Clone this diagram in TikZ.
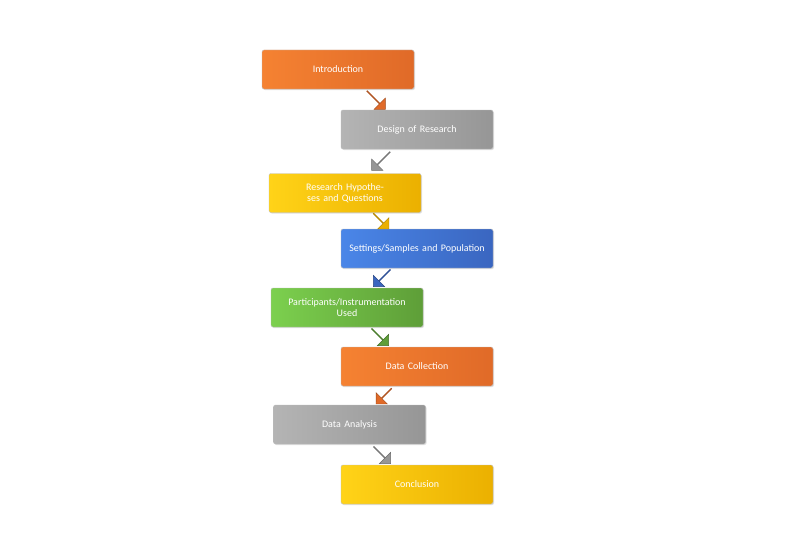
\documentclass[tikz,border=0pt]{standalone}
\usepackage{fontspec}
\setmainfont{Carlito}
\usetikzlibrary{shapes.arrows,shadows}
\definecolor{orA}{HTML}{F58232}\definecolor{orB}{HTML}{E06A28}
\definecolor{grA}{HTML}{B4B4B4}\definecolor{grB}{HTML}{969696}
\definecolor{yeA}{HTML}{FFD318}\definecolor{yeB}{HTML}{EBB000}
\definecolor{blA}{HTML}{4A86E8}\definecolor{blB}{HTML}{3A66C0}
\definecolor{gnA}{HTML}{7CD04E}\definecolor{gnB}{HTML}{5E9E38}
\tikzset{
 box/.style={rounded corners=2pt,minimum width=152pt,minimum height=39pt,text width=140pt,align=center,text=white,font=\fontsize{10}{11}\selectfont,draw=black!25,drop shadow={opacity=0.25,shadow xshift=1pt,shadow yshift=-1pt}},
 fillc/.style 2 args={left color=#1,right color=#2},
 barrow/.style={single arrow,minimum width=20pt,single arrow head extend=3pt,minimum height=28pt,inner sep=0pt,draw=#1!70!black,fill=#1,rotate=0},
}
\begin{document}
\begin{tikzpicture}[x=1pt,y=-1pt]
\useasboundingbox[fill=white] (0,0) rectangle (811,535);
\node[box,fillc={orA}{orB}] (n1) at (338,69.5) {Introduction};
\node[box,fillc={grA}{grB}] (n2) at (417,129.5) {Design of Research};
\node[box,fillc={yeA}{yeB}] (n3) at (345,193) {Research Hypotheses and Questions};
\node[box,fillc={blA}{blB}] (n4) at (417,248.5) {Settings/Samples and Population};
\node[box,fillc={gnA}{gnB}] (n5) at (347,307.5) {Participants/Instrumentation Used};
\node[box,fillc={orA}{orB}] (n6) at (417,366.5) {Data Collection};
\node[box,fillc={grA}{grB}] (n7) at (349.5,424.5) {Data Analysis};
\node[box,fillc={yeA}{yeB}] (n8) at (417,484.5) {Conclusion};
\node[barrow=orB,shape border rotate=0,rotate=-45,minimum width=16pt,minimum height=26pt] (a1) at (376,100) {};
\node[barrow=grB,rotate=-135,minimum width=16pt,minimum height=26pt] (a2) at (381,161) {};
\node[barrow=yeB,rotate=-45,minimum width=16pt,minimum height=22pt] (a3) at (381,221) {};
\node[barrow=blB,rotate=-135,minimum width=16pt,minimum height=24pt] (a4) at (382,278) {};
\node[barrow=gnB,rotate=-45,minimum width=16pt,minimum height=24pt] (a5) at (380,337) {};
\node[barrow=orB,rotate=-135,minimum width=16pt,minimum height=22pt] (a6) at (384,396) {};
\node[barrow=grB,rotate=-45,minimum width=16pt,minimum height=24pt] (a7) at (382,455) {};
\end{tikzpicture}
\end{document}
